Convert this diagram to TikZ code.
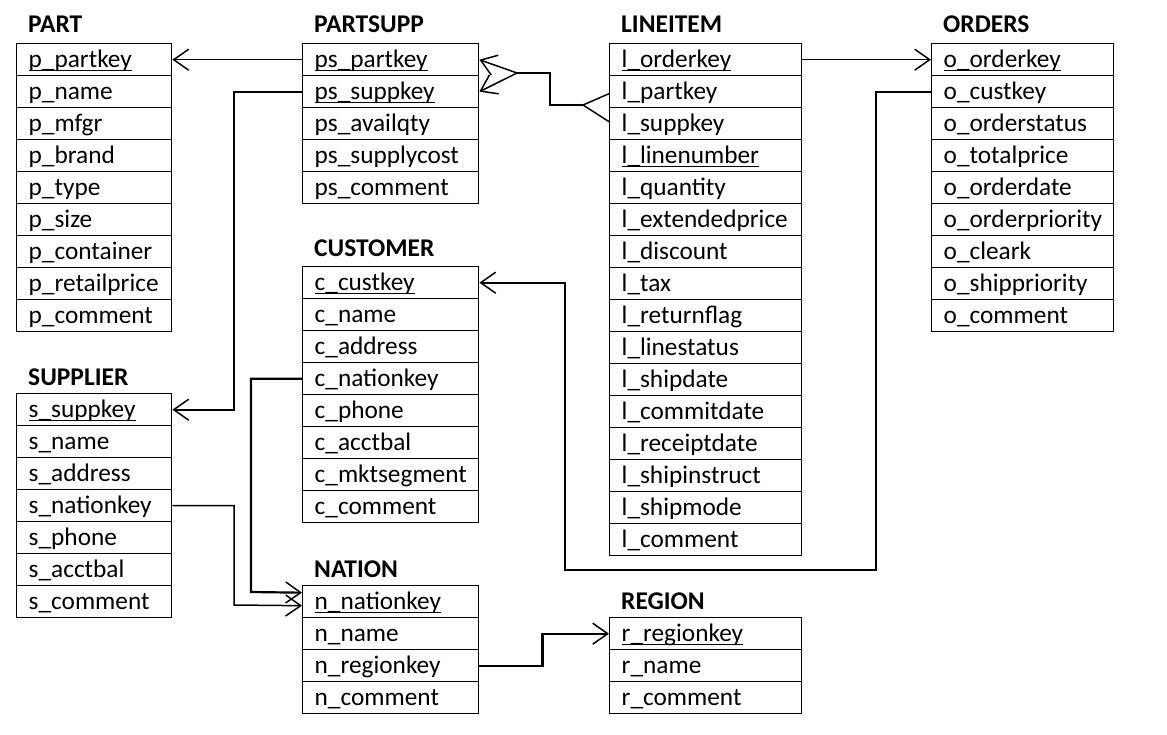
\documentclass[tikz,border=0pt]{standalone}
\usepackage{fontspec}
\setmainfont{Carlito}
\usetikzlibrary{arrows.meta,calc}
\newcommand\ukey[1]{\setbox0\hbox{#1}\rlap{\rule[-3.4pt]{\wd0}{1.5pt}}\box0}
\tikzset{
  row/.style 2 args={draw, line width=1.4pt, anchor=north west, minimum width=#1, text width=#2,
     minimum height=32pt, text height=20pt, text depth=4pt, inner ysep=0pt, inner xsep=12pt,
     align=left, font=\fontsize{25.3}{30}\selectfont},
  tabtitle/.style={anchor=base west, inner sep=0pt, font=\bfseries\fontsize{25.5}{30}\selectfont},
  fk/.style={line width=1.5pt, -{Straight Barb[length=15pt,width=21pt,line width=1.5pt]}},
  fkthick/.style={line width=2.2pt, -{Straight Barb[length=15pt,width=21pt,line width=1.5pt]}},
  link/.style={line width=2.2pt},
}
\begin{document}
\begin{tikzpicture}[x=1pt,y=-1pt]
\useasboundingbox (0,0) rectangle (1167,735);
% PART
\node[tabtitle] (tPART) at (28,33) {PART};
\foreach \n/\t [count=\i from 0] in {ppartkey/\ukey{p\_partkey}, pname/p\_name, pmfgr/p\_mfgr, pbrand/p\_brand, ptype/p\_type, psize/p\_size, pcontainer/p\_container, pretailprice/p\_retailprice, pcomment/p\_comment}
  \node[row={155pt}{131pt}] (\n) at (16,43+32*\i) {\t};
% PARTSUPP
\node[tabtitle] (tPARTSUPP) at (314,33) {PARTSUPP};
\foreach \n/\t [count=\i from 0] in {pspartkey/\ukey{ps\_partkey}, pssuppkey/\ukey{ps\_suppkey}, psavailqty/ps\_availqty, pssupplycost/ps\_supplycost, pscomment/ps\_comment}
  \node[row={176pt}{152pt}] (\n) at (302,43+32*\i) {\t};
% LINEITEM
\node[tabtitle] (tLINEITEM) at (621,33) {LINEITEM};
\foreach \n/\t [count=\i from 0] in {lorderkey/\ukey{l\_orderkey}, lpartkey/l\_partkey, lsuppkey/l\_suppkey, llinenumber/\ukey{l\_linenumber}, lquantity/l\_quantity, lextendedprice/l\_extendedprice, ldiscount/l\_discount, ltax/l\_tax, lreturnflag/l\_returnflag, llinestatus/l\_linestatus, lshipdate/l\_shipdate, lcommitdate/l\_commitdate, lreceiptdate/l\_receiptdate, lshipinstruct/l\_shipinstruct, lshipmode/l\_shipmode, lcomment/l\_comment}
  \node[row={192pt}{168pt}] (\n) at (609,43+32*\i) {\t};
% ORDERS
\node[tabtitle] (tORDERS) at (943,33) {ORDERS};
\foreach \n/\t [count=\i from 0] in {oorderkey/\ukey{o\_orderkey}, ocustkey/o\_custkey, oorderstatus/o\_orderstatus, ototalprice/o\_totalprice, oorderdate/o\_orderdate, oorderpriority/o\_orderpriority, oclerk/o\_cleark, oshippriority/o\_shippriority, ocomment/o\_comment}
  \node[row={182pt}{158pt}] (\n) at (931,43+32*\i) {\t};
% CUSTOMER
\node[tabtitle] (tCUSTOMER) at (314,257) {CUSTOMER};
\foreach \n/\t [count=\i from 0] in {ccustkey/\ukey{c\_custkey}, cname/c\_name, caddress/c\_address, cnationkey/c\_nationkey, cphone/c\_phone, cacctbal/c\_acctbal, cmktsegment/c\_mktsegment, ccomment/c\_comment}
  \node[row={176pt}{152pt}] (\n) at (302,266+32*\i) {\t};
% SUPPLIER
\node[tabtitle] (tSUPPLIER) at (28,385) {SUPPLIER};
\foreach \n/\t [count=\i from 0] in {ssuppkey/\ukey{s\_suppkey}, sname/s\_name, saddress/s\_address, snationkey/s\_nationkey, sphone/s\_phone, sacctbal/s\_acctbal, scomment/s\_comment}
  \node[row={155pt}{131pt}] (\n) at (16,393+32*\i) {\t};
% NATION
\node[tabtitle] (tNATION) at (314,577) {NATION};
\foreach \n/\t [count=\i from 0] in {nnationkey/\ukey{n\_nationkey}, nname/n\_name, nregionkey/n\_regionkey, ncomment/n\_comment}
  \node[row={176pt}{152pt}] (\n) at (302,585+32*\i) {\t};
% REGION
\node[tabtitle] (tREGION) at (621,609) {REGION};
\foreach \n/\t [count=\i from 0] in {rregionkey/\ukey{r\_regionkey}, rname/r\_name, rcomment/r\_comment}
  \node[row={192pt}{168pt}] (\n) at (609,617+32*\i) {\t};

% connectors
\draw[fk] (pspartkey.west) -- (ppartkey.east);
\draw[fkthick] (pssuppkey.west) -- ++(-68,0) |- (ssuppkey.east);
\coordinate (crowA) at (517,73);
\coordinate (crowB) at (583,105);
\draw[fk] (crowA) -- (pspartkey.east);
\draw[fk] (crowA) -- (pssuppkey.east);
\draw[link] (crowA) -- (550,73) -- (550,105) -- (crowB);
\draw[line width=1.5pt] ($(lpartkey.west)+(0,2)$) -- (crowB) -- ($(lsuppkey.west)+(0,-2)$);
\draw[fk] (lorderkey.east) -- (oorderkey.west);
\coordinate (oc1) at (876,570);
\coordinate (oc2) at (565,570);
\draw[fkthick] (ocustkey.west) -| (oc1) -- (oc2) |- (ccustkey.east);
\coordinate (cn1) at (251,592);
\draw[fkthick] (cnationkey.west) -| (cn1) -- ($(nnationkey.west)+(0,-9)$);
\coordinate (sn1) at (234,605);
\draw[fk] (snationkey.east) -| (sn1) -- ($(nnationkey.west)+(0,4)$);
\draw[fkthick] (nregionkey.east) -- ++(63,0) |- (rregionkey.west);
\end{tikzpicture}
\end{document}
